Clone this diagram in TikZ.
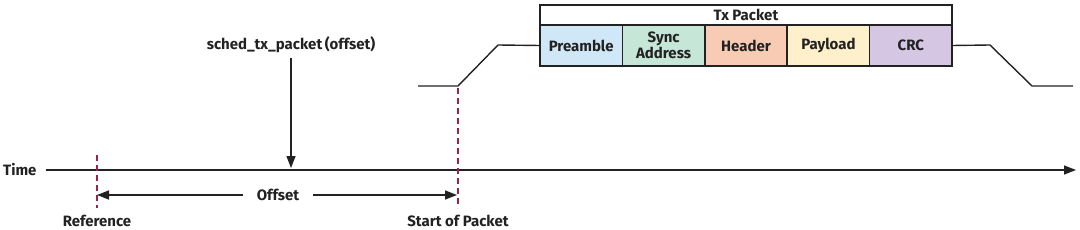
\documentclass[tikz,border=0pt]{standalone}
\usepackage{fontspec}
\setmainfont{Fira Sans}
\usetikzlibrary{arrows.meta}
\definecolor{cpre}{HTML}{CFE7F7}
\definecolor{csync}{HTML}{C6E6D7}
\definecolor{chead}{HTML}{F8CBB5}
\definecolor{cpay}{HTML}{FDF0CB}
\definecolor{ccrc}{HTML}{D5C6E3}
\definecolor{cmark}{HTML}{9B2445}
\definecolor{cline}{HTML}{222222}
\tikzset{
  lbl/.style={font=\bfseries\fontsize{15}{16}\selectfont, text=cline, inner sep=1pt},
  field/.style={draw=cline, line width=1.6pt, outer sep=0pt, minimum height=41pt, minimum width=82.4pt, inner sep=0pt, anchor=north west, align=center, font=\bfseries\fontsize{15}{14.5}\selectfont, text=cline},
  marker/.style={draw=cmark, line width=1.3pt, dash pattern=on 6pt off 4pt},
  conn/.style={draw=cline, line width=1.4pt},
  arr/.style={conn, -{Triangle[length=12pt,width=9pt]}},
}
\begin{document}
\begin{tikzpicture}[x=1pt,y=-1pt]
\useasboundingbox (0,0) rectangle (1080,230);
% time axis
\node[lbl, anchor=west] (time) at (2,170) {Time};
\coordinate (tend) at (1076,170);
\draw[arr] (time.east) ++(8,0) coordinate (tstart) -- (tend);
% markers
\coordinate (reftop) at (97,155);
\coordinate (refbot) at (97,208);
\coordinate (spktop) at (458,88);
\coordinate (spkbot) at (458,208);
\draw[marker] (reftop) -- (refbot);
\draw[marker] (spktop) -- (spkbot);
\node[lbl] (ref) at (97,221) {Reference};
\node[lbl] (spk) at (458,221) {Start of Packet};
% offset
\node[lbl, fill=white, inner xsep=14pt] (off) at (278,195) {Offset};
\coordinate (offl) at (97,195);
\coordinate (offr) at (457,195);
\draw[arr] (off.west) -- (offl);
\draw[arr] (off.east) -- (offr);
% sched
\node[lbl] (sched) at (291,45) {sched\_tx\_packet\,(offset)};
\coordinate (schedtip) at (291,168);
\draw[arr] (sched.south) ++(0,4) -- (schedtip);
% packet
\node[field, fill=cpre] (pre) at (540,25) {Preamble};
\node[field, fill=csync] (sync) at (pre.north east) {Sync\\Address};
\node[field, fill=chead] (head) at (sync.north east) {Header};
\node[field, fill=cpay] (pay) at (head.north east) {Payload};
\node[field, fill=ccrc] (crc) at (pay.north east) {CRC};
\node[draw=cline, line width=1.6pt, outer sep=0pt, fill=white, inner sep=0pt, anchor=south west, minimum width=412pt, minimum height=20pt, font=\bfseries\fontsize{15}{16}\selectfont, text=cline] (tx) at (pre.north west) {Tx Packet};
% signal
\coordinate (s0) at (418,86);
\coordinate (s1) at (458,86);
\coordinate (s2) at (498,45);
\coordinate (e1) at (990,45);
\coordinate (e2) at (1032,86);
\coordinate (e3) at (1073,86);
\draw[conn] (s0) -- (s1) -- (s2) -- (pre.west);
\draw[conn] (crc.east) -- (e1) -- (e2) -- (e3);
\end{tikzpicture}
\end{document}
